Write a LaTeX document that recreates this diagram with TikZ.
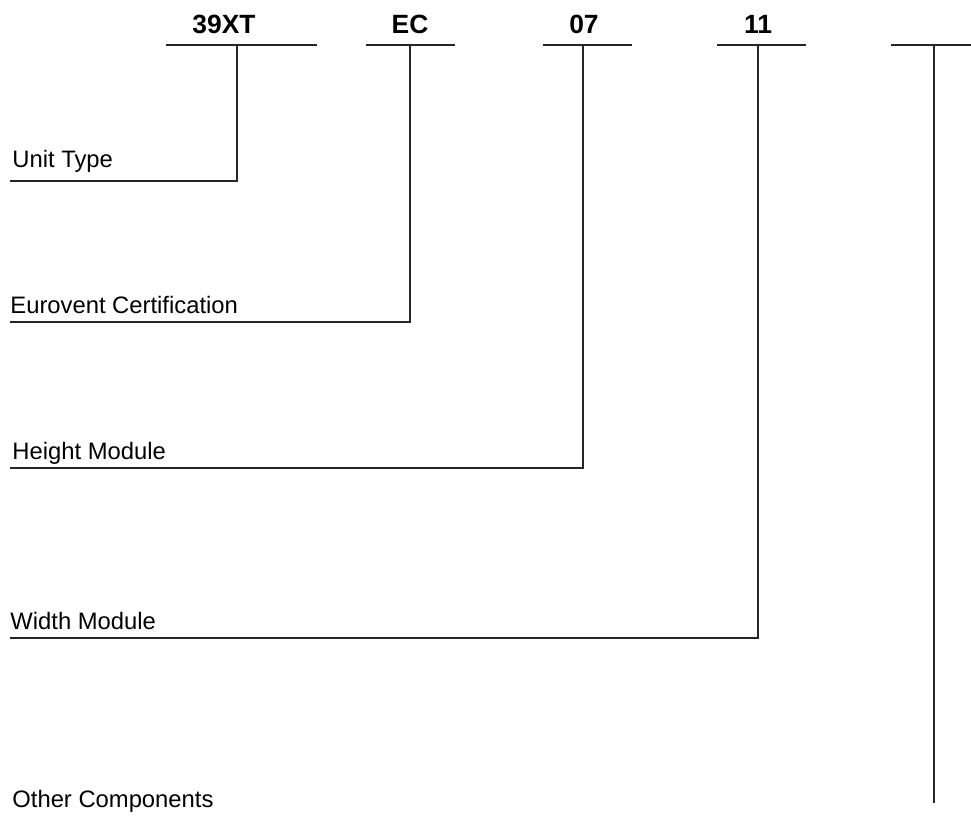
\documentclass[tikz,border=0pt]{standalone}
\usepackage{fontspec}
\setmainfont{Liberation Sans}
\tikzset{>=latex}
\usetikzlibrary{positioning}
\tikzset{
  code/.style={font=\fontsize{13.2}{16}\selectfont\bfseries, anchor=base, inner sep=0pt},
  desc/.style={font=\fontsize{11.9}{14}\selectfont, anchor=base west, inner sep=0pt},
  rule/.style={draw=black!85, line width=0.55pt}
}

\begin{document}
\begin{tikzpicture}[x=0.5pt,y=-0.5pt]
      \useasboundingbox (0,0) rectangle (971,816);
      % codes above the bars
      \node[code] (c1) at (224,33) {39XT};
      \node[code] (c2) at (410,33) {EC};
      \node[code] (c3) at (584,33) {07};
      \node[code] (c4) at (758,33) {11};
      % bar ends and drop points
      \coordinate (b1l) at (166,45); \coordinate (b1r) at (317,45); \coordinate (j1) at (237,45);
      \coordinate (b2l) at (366,45); \coordinate (b2r) at (455,45); \coordinate (j2) at (410,45);
      \coordinate (b3l) at (543,45); \coordinate (b3r) at (632,45); \coordinate (j3) at (583,45);
      \coordinate (b4l) at (717,45); \coordinate (b4r) at (806,45); \coordinate (j4) at (758,45);
      \coordinate (b5l) at (891,45); \coordinate (b5r) at (971,45); \coordinate (j5) at (934,45);
      % descriptions
      \node[desc] (t1) at (12,167) {Unit Type};
      \node[desc] (t2) at (10,313) {Eurovent Certification};
      \node[desc] (t3) at (12,459) {Height Module};
      \node[desc] (t4) at (10,629) {Width Module};
      \node[desc] (t5) at (12,807) {Other Components};
      \coordinate (k1) at (10,181);
      \coordinate (k2) at (10,322);
      \coordinate (k3) at (10,468);
      \coordinate (k4) at (10,638);
      \coordinate (e5) at (934,803);
      % bars
      \draw[rule] (b1l) -- (b1r);
      \draw[rule] (b2l) -- (b2r);
      \draw[rule] (b3l) -- (b3r);
      \draw[rule] (b4l) -- (b4r);
      \draw[rule] (b5l) -- (b5r);
      % leaders
      \draw[rule] (j1) |- (k1);
      \draw[rule] (j2) |- (k2);
      \draw[rule] (j3) |- (k3);
      \draw[rule] (j4) |- (k4);
      \draw[rule] (j5) -- (e5);
\end{tikzpicture}
\end{document}
